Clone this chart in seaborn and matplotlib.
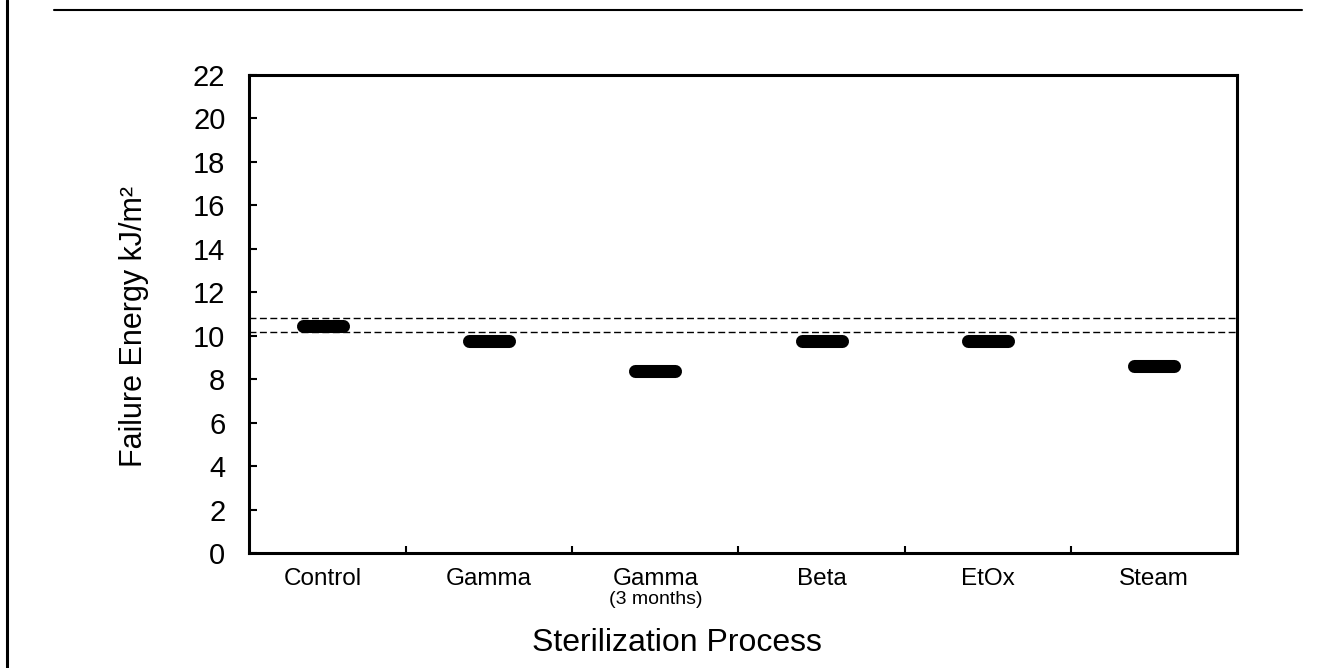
import matplotlib
matplotlib.use("Agg")
import matplotlib.pyplot as plt
import matplotlib.transforms as mtransforms
from matplotlib.lines import Line2D
import seaborn as sns
import pandas as pd

# values
processes = ["Control", "Gamma", "Gamma (3 months)", "Beta", "EtOx", "Steam"]
tick_names = ["Control", "Gamma", "Gamma", "Beta", "EtOx", "Steam"]
tick_notes = ["", "", "(3 months)", "", "", ""]
failure_energy = [10.47, 9.77, 8.39, 9.77, 9.77, 8.61]
control_band = [10.16, 10.80]
y_ticks = [0, 2, 4, 6, 8, 10, 12, 14, 16, 18, 20, 22]

sns.set_style("ticks")
plt.rcParams["font.family"] = ["Liberation Sans", "DejaVu Sans"]
plt.rcParams["text.color"] = "black"
plt.rcParams["axes.labelcolor"] = "black"

df = pd.DataFrame({"process": processes, "energy": failure_energy})

fig = plt.figure(figsize=(13.39, 6.68), dpi=100)
ax = fig.add_axes([0.186, 0.1722, 0.7378, 0.7155])

sns.scatterplot(data=df, x="process", y="energy", marker="_", s=870,
                linewidth=9.4, color="black", edgecolor="black",
                ax=ax, legend=False, zorder=3)
ax.collections[0].set_capstyle("round")

# dashed band of the control sample
for v in control_band:
    ax.axhline(v, color="black", lw=1, linestyle=(0, (5, 2.5)), zorder=2)

ax.set_xlim(-0.445, 5.5)
ax.set_ylim(0, 22)
ax.set_yticks(y_ticks)
ax.set_xticks(range(len(processes)))
ax.set_xticklabels(tick_names)
ax.set_xticks([i + 0.5 for i in range(len(processes) - 1)], minor=True)

ax.tick_params(axis="y", direction="in", length=5.8, width=1.5, pad=17,
               labelsize=21, colors="black")
ax.tick_params(axis="x", which="major", length=0, pad=11, labelsize=17.5,
               colors="black")
ax.tick_params(axis="x", which="minor", direction="in", length=5, width=1.5,
               colors="black")

trans = mtransforms.blended_transform_factory(ax.transData, ax.transAxes)
for i, note in enumerate(tick_notes):
    if note:
        ax.text(i, -0.097, note, transform=trans, ha="center", va="center",
                fontsize=14, color="black")

for s in ax.spines.values():
    s.set_linewidth(2.2)
    s.set_color("black")

ax.set_ylabel("Failure Energy kJ/m²", fontsize=22, color="black")
ax.yaxis.set_label_coords(-0.101, 0.473)
ax.set_xlabel("Sterilization Process", fontsize=23, color="black")
ax.xaxis.set_label_coords(0.433, -0.157)

# page frame lines from the scan
fig.add_artist(Line2D([54 / 1339, 1302 / 1339], [1 - 9.5 / 668] * 2,
                      color="black", lw=1.5, transform=fig.transFigure))
fig.add_artist(Line2D([7 / 1339] * 2, [0, 1], color="black", lw=2.2,
                      transform=fig.transFigure))

fig.savefig("out.png", dpi=100)
